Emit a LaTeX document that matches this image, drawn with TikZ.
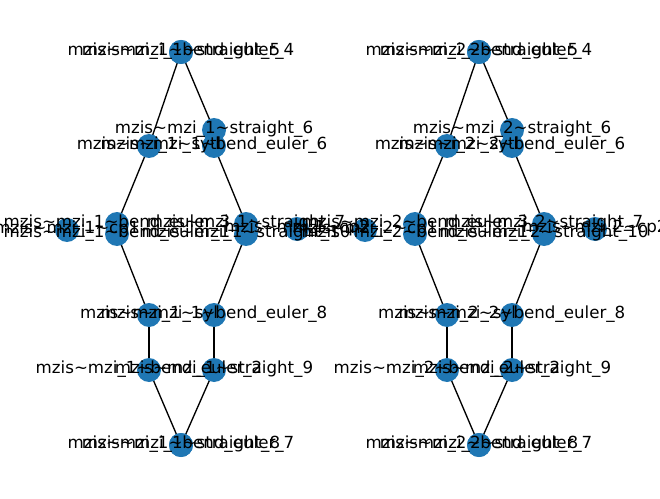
\documentclass[tikz,border=0pt]{standalone}
\usepackage{fontspec}
\setmainfont{DejaVu Sans}
\usetikzlibrary{backgrounds}
\definecolor{nxblue}{HTML}{1F77B4}
% hierarchical instance name: mzis~mzi_<k>~<instance>
\newcommand\mzl[2]{mzis\textasciitilde mzi\_#1\textasciitilde #2}
\begin{document}
\begin{tikzpicture}[x=0.75pt,y=-0.75pt,
  vtx/.style={circle,fill=nxblue,minimum size=18pt,inner sep=0pt},
  wire/.style={line width=1pt,black},
  lbl/.style={font=\fontsize{12.5}{15}\selectfont,inner sep=0pt,
              text height=0.76em,text depth=0.236em,anchor=center}]
\useasboundingbox (0,0) rectangle (660,499);
% instances of both interferometers, placed at their layout positions
\foreach \k/\dx in {1/0,2/298}{
  \foreach \n/\x/\y in {ta/181/52,tb/181/52,yt/149/146,s6/214/130,e6/214/146,
      c1/67/230,e3/117/224,e1/117/234,s7/246/224,s10/246/234,c2/297/229,
      yl/149/315,e8/214/315,e2/149/370,s9/214/370,ba/181/445,bb/181/445}
    \node[vtx] (\n-\k) at (\x+\dx,\y) {};
  % connections between instances
  \begin{scope}[on background layer]
    \foreach \a/\b in {ta/yt,ta/s6,s6/e6,e6/s7,yt/e3,e1/yl,yl/e2,e2/ba,
        ba/s9,s9/e8,e8/s10}
      \draw[wire] (\a-\k.center) -- (\b-\k.center);
  \end{scope}
}
% instance names on top of everything
\foreach \k in {1,2}{
  \foreach \n/\t in {ta/bend\_euler\_4,tb/straight\_5,yt/sytl,s6/straight\_6,
      e6/bend\_euler\_6,c1/cp1,e3/bend\_euler\_3,e1/bend\_euler\_1,
      s7/straight\_7,s10/straight\_10,c2/cp2,yl/syl,e8/bend\_euler\_8,
      e2/bend\_euler\_2,s9/straight\_9,ba/bend\_euler\_7,bb/straight\_8}
    \node[lbl] (l\n-\k) at (\n-\k.center) {\mzl{\k}{\t}};
}
\end{tikzpicture}
\end{document}
